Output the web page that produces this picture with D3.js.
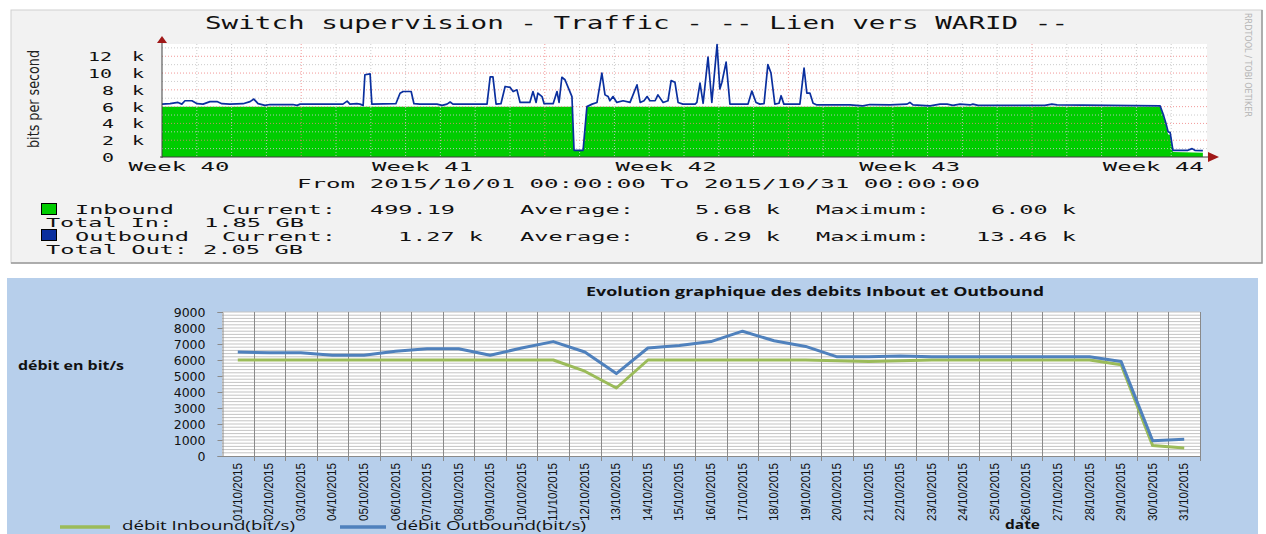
<!DOCTYPE html>
<html>
<head>
<meta charset="utf-8">
<script src="https://cdn.jsdelivr.net/npm/d3@7"></script>
<style>
  body { margin: 0; background: #fff; }
  svg { display: block; }
  .mono { font-family: "DejaVu Sans Mono", monospace; fill: #111; }
</style>
</head>
<body>
<div id="chart"></div>
<script>
// ---- top graph (rrdtool) : day offset from 2015/10/01, value in k bits/s
const outTimes = [0, 0.23, 0.46, 0.57, 0.66, 0.86, 1.01, 1.18, 1.38, 1.58, 1.72, 1.95, 2.33, 2.53, 2.64, 2.76, 2.96, 3.10, 3.76, 3.88, 3.97,
  5.20, 5.32, 5.40, 5.60, 5.69, 5.78, 5.83, 5.98, 6.03, 6.72, 6.84, 6.93, 7.16, 7.24, 7.41, 7.90, 8.05, 8.19, 8.28, 8.36,
  9.34, 9.43, 9.51, 9.60, 9.74, 9.86, 10.0, 10.09, 10.20, 10.29, 10.57, 10.66, 10.75, 10.80, 10.92, 10.98, 11.24, 11.35, 11.41,
  11.49, 11.58, 11.70, 11.78, 11.84, 12.10, 12.21, 12.36, 12.50, 12.64, 12.73, 12.82, 12.87, 12.96, 13.07, 13.25, 13.45, 13.65,
  13.74, 13.85, 13.94, 14.02, 14.17, 14.25, 14.40, 14.54, 14.63, 14.74, 14.83, 14.97, 15.32, 15.37, 15.46, 15.55, 15.69, 15.80,
  15.95, 16.03, 16.09, 16.21, 16.32, 16.84, 16.95, 17.07, 17.18, 17.30, 17.41, 17.50, 17.61, 17.73, 17.79, 17.87, 18.33, 18.45,
  18.53, 18.62, 18.71, 18.82, 19.77, 20.14, 20.34, 20.92, 21.41, 21.49, 21.58, 22.07, 22.36, 22.56, 22.73, 22.93, 23.22, 23.30,
  23.45, 25.37, 25.57, 25.72, 28.68, 28.76, 28.85, 28.91, 28.97, 29.05, 29.48, 29.60, 29.68, 29.91];
const outValues = [6.3, 6.35, 6.5, 6.3, 6.7, 6.7, 6.35, 6.3, 6.6, 6.6, 6.35, 6.3, 6.35, 6.6, 6.9, 6.35, 6.15, 6.25, 6.25, 6.15, 6.3,
  6.3, 6.65, 6.3, 6.35, 6.3, 6.15, 9.8, 9.9, 6.3, 6.35, 7.6, 7.8, 7.8, 6.35, 6.3, 6.3, 6.15, 6.3, 6.55, 6.3,
  6.3, 9.55, 9.55, 6.3, 6.35, 8.4, 8.3, 7.8, 8.0, 6.5, 6.5, 7.8, 6.5, 7.6, 7.2, 6.35, 6.35, 7.8, 6.5,
  9.5, 9.2, 8.0, 7.2, 0.8, 0.8, 6.0, 6.3, 6.5, 10.0, 7.4, 7.2, 6.7, 7.2, 6.5, 6.7, 6.5, 8.6,
  6.5, 6.7, 7.2, 6.7, 6.7, 7.4, 6.5, 6.7, 9.1, 8.9, 6.5, 6.3, 6.3, 6.5, 8.8, 6.4, 11.9, 6.5,
  13.4, 8.1, 8.9, 11.3, 6.3, 6.3, 7.85, 6.5, 6.3, 6.35, 11.0, 10.0, 6.3, 6.4, 7.3, 6.3, 6.3, 10.6,
  7.6, 7.6, 6.4, 6.2, 6.2, 6.1, 6.25, 6.2, 6.3, 6.5, 6.2, 6.1, 6.3, 6.3, 6.15, 6.3, 6.2, 6.3,
  6.15, 6.15, 6.3, 6.2, 6.1, 5.2, 4.0, 3.0, 2.9, 0.8, 0.8, 1.0, 0.8, 0.75];
const inTimes = [0, 11.78, 11.84, 12.10, 12.21, 28.68, 28.76, 28.85, 28.91, 28.97, 29.05, 29.91];
const inValues = [6.0, 6.0, 0.7, 0.7, 6.0, 6.0, 5.0, 3.8, 2.7, 2.6, 0.6, 0.5];
const yTicksTop = [0, 2, 4, 6, 8, 10, 12];
const weekLabels = ["Week 40", "Week 41", "Week 42", "Week 43", "Week 44"];
const weekLabelDays = [0.5, 7.5, 14.5, 21.5, 28.5];
const mondays = [4, 11, 18, 25];

// ---- bottom graph (excel)
const dates = ["01/10/2015", "02/10/2015", "03/10/2015", "04/10/2015", "05/10/2015", "06/10/2015", "07/10/2015", "08/10/2015",
  "09/10/2015", "10/10/2015", "11/10/2015", "12/10/2015", "13/10/2015", "14/10/2015", "15/10/2015", "16/10/2015", "17/10/2015",
  "18/10/2015", "19/10/2015", "20/10/2015", "21/10/2015", "22/10/2015", "23/10/2015", "24/10/2015", "25/10/2015", "26/10/2015",
  "27/10/2015", "28/10/2015", "29/10/2015", "30/10/2015", "31/10/2015"];
const inbound = [6000, 6000, 6000, 6000, 6000, 6000, 6000, 6000, 6000, 6000, 6000, 5300, 4250, 6000, 6000, 6000, 6000,
  6000, 6000, 5950, 5900, 5950, 6000, 6000, 6000, 6000, 6000, 6000, 5700, 650, 500];
const outbound = [6500, 6450, 6450, 6300, 6300, 6550, 6700, 6700, 6300, 6750, 7150, 6500, 5150, 6750, 6900, 7150, 7800,
  7200, 6850, 6200, 6200, 6250, 6200, 6200, 6200, 6200, 6200, 6200, 5900, 950, 1050];
const yTicksBottom = [0, 1000, 2000, 3000, 4000, 5000, 6000, 7000, 8000, 9000];

const svg = d3.select("#chart").append("svg")
  .attr("width", 1266)
  .attr("height", 534);

// monospace text stretched to the measured width
function mono(g, x, y, str, len, size) {
  return g.append("text")
    .attr("class", "mono")
    .attr("x", x).attr("y", y)
    .attr("font-size", size)
    .attr("textLength", len)
    .attr("lengthAdjust", "spacingAndGlyphs")
    .text(str);
}

// ================= TOP PANEL =================
const topG = svg.append("g");
topG.append("rect").attr("x", 11).attr("y", 10).attr("width", 1251).attr("height", 253)
  .attr("fill", "#f2f2f2").attr("stroke", "#d0d0d0");
topG.append("path").attr("d", "M11,263H1262V10").attr("fill", "none").attr("stroke", "#9a9a9a").attr("stroke-width", 1.5);

mono(topG, 205, 29, "Switch supervision - Traffic - -- Lien vers WARID --", 863, 17);

const x1 = d3.scaleLinear().domain([0, 30]).range([162, 1206]);
const y1 = d3.scaleLinear().domain([0, 13.46]).range([157, 44]);

topG.append("rect").attr("x", 162).attr("y", 44).attr("width", 1045).attr("height", 113).attr("fill", "#fff");

const inData = inTimes.map((t, i) => ({t, v: inValues[i]}));
const outData = outTimes.map((t, i) => ({t, v: outValues[i]}));

topG.append("path").datum(inData)
  .attr("fill", "#00cc00")
  .attr("d", d3.area().x(d => x1(d.t)).y0(y1(0)).y1(d => y1(d.v)));

// grid
const grid = topG.append("g").attr("stroke-dasharray", "1,2").attr("stroke-width", 1);
d3.range(1, 30).forEach(d => {
  const major = mondays.includes(d);
  grid.append("line").attr("x1", x1(d)).attr("x2", x1(d)).attr("y1", 44).attr("y2", 157)
    .attr("stroke", major ? "#f08080" : "#c8c8c8").attr("opacity", major ? 0.8 : 0.9);
});
d3.range(1, 14).forEach(v => {
  const major = v % 2 === 0;
  grid.append("line").attr("x1", 162).attr("x2", 1207).attr("y1", y1(v)).attr("y2", y1(v))
    .attr("stroke", major ? "#f08080" : "#c8c8c8").attr("opacity", major ? 0.8 : 0.9);
});

topG.append("path").datum(outData)
  .attr("fill", "none")
  .attr("stroke", "#0a2f9e")
  .attr("stroke-width", 1.7)
  .attr("stroke-linejoin", "round")
  .attr("d", d3.line().x(d => x1(d.t)).y(d => y1(d.v)));

// axes with arrows
topG.append("line").attr("x1", 162).attr("x2", 162).attr("y1", 158).attr("y2", 42).attr("stroke", "#404040");
topG.append("line").attr("x1", 160).attr("x2", 1212).attr("y1", 157).attr("y2", 157).attr("stroke", "#404040");
topG.append("path").attr("d", "M157,43L162,36L167,43Z").attr("fill", "#a01818");
topG.append("path").attr("d", "M1208,152L1219,157L1208,162Z").attr("fill", "#a01818");

yTicksTop.forEach(v => {
  const s = String(v);
  mono(topG, 116 - s.length * 14, y1(v) + 5, s, s.length * 12, 13);
  if (v > 0) mono(topG, 132, y1(v) + 5, "k", 12, 13);
});

weekLabels.forEach((w, i) => {
  mono(topG, x1(weekLabelDays[i]) - 51, 171, w, 101, 13);
});

topG.append("text")
  .attr("transform", "translate(39,99) rotate(-90)")
  .attr("text-anchor", "middle")
  .attr("font-family", "DejaVu Sans, sans-serif")
  .attr("font-size", 15)
  .attr("fill", "#222")
  .attr("textLength", 98)
  .attr("lengthAdjust", "spacingAndGlyphs")
  .text("bits per second");

topG.append("text")
  .attr("transform", "translate(1245,65) rotate(90)")
  .attr("text-anchor", "middle")
  .attr("font-family", "DejaVu Sans, sans-serif")
  .attr("font-size", 9)
  .attr("fill", "#b4b4b4")
  .attr("textLength", 104)
  .attr("lengthAdjust", "spacingAndGlyphs")
  .text("RRDTOOL / TOBI OETIKER");

mono(topG, 297, 188, "From 2015/10/01 00:00:00 To 2015/10/31 00:00:00", 683, 13);

// legend
topG.append("rect").attr("x", 41.5).attr("y", 203.5).attr("width", 15).attr("height", 11)
  .attr("fill", "#00cc00").attr("stroke", "#000");
topG.append("rect").attr("x", 41.5).attr("y", 229.5).attr("width", 15).attr("height", 11)
  .attr("fill", "#0a2f9e").attr("stroke", "#000");
const legendRows = [
  [[75, 214, "Inbound", 99], [222, 214, "Current:", 114], [370, 214, "499.19", 85], [520, 214, "Average:", 114],
   [695, 214, "5.68 k", 85], [816, 214, "Maximum:", 114], [991, 214, "6.00 k", 85]],
  [[46, 227, "Total In:", 127], [204, 227, "1.85 GB", 100]],
  [[75, 241, "Outbound", 114], [222, 241, "Current:", 114], [398, 241, "1.27 k", 85], [520, 241, "Average:", 114],
   [695, 241, "6.29 k", 85], [816, 241, "Maximum:", 114], [976, 241, "13.46 k", 100]],
  [[46, 254, "Total Out:", 142], [203, 254, "2.05 GB", 100]]
];
legendRows.forEach(row => row.forEach(c => mono(topG, c[0], c[1], c[2], c[3], 13)));

// ================= BOTTOM PANEL =================
const botG = svg.append("g");
botG.append("rect").attr("x", 7).attr("y", 278).attr("width", 1251).attr("height", 260).attr("fill", "#b7cfeb");

botG.append("text").attr("x", 586).attr("y", 296)
  .attr("font-family", "Open Sans, sans-serif").attr("font-weight", "bold").attr("font-size", 13)
  .attr("fill", "#111")
  .attr("textLength", 458).attr("lengthAdjust", "spacingAndGlyphs")
  .text("Evolution graphique des debits Inbout et Outbound");

const x2 = d3.scaleBand().domain(dates).range([222, 1200]);
const y2 = d3.scaleLinear().domain([0, 9000]).range([456, 312]);

botG.append("rect").attr("x", 222).attr("y", 312).attr("width", 978).attr("height", 144).attr("fill", "#fff");

// horizontal minor gridlines
d3.range(200, 9001, 200).forEach(v => {
  botG.append("line").attr("x1", 222).attr("x2", 1200).attr("y1", y2(v)).attr("y2", y2(v))
    .attr("stroke", "#c4c4c4").attr("stroke-width", 1);
});
// vertical gridlines at category boundaries
dates.forEach((d, i) => {
  const xx = Math.round(x2(d) + x2.bandwidth()) + 0.5;
  botG.append("line").attr("x1", xx).attr("x2", xx).attr("y1", 312).attr("y2", 461)
    .attr("stroke", "#8a8a8a");
});

// y axis
const yAxis = botG.append("g").attr("transform", "translate(222.5,0)")
  .call(d3.axisLeft(y2).tickValues(yTicksBottom).tickSize(5).tickFormat(d3.format("d")));
yAxis.select(".domain").attr("stroke", "#8a8a8a");
yAxis.selectAll(".tick line").attr("stroke", "#8a8a8a");
yAxis.selectAll(".tick text")
  .attr("font-family", "DejaVu Sans, sans-serif").attr("font-size", 12.5).attr("fill", "#111")
  .attr("x", -17);
botG.append("line").attr("x1", 218).attr("x2", 1200).attr("y1", 456.5).attr("y2", 456.5).attr("stroke", "#8a8a8a");

// category labels
dates.forEach(d => {
  const cx = x2(d) + x2.bandwidth() / 2;
  botG.append("text")
    .attr("transform", `translate(${cx + 4},463) rotate(-90)`)
    .attr("text-anchor", "end")
    .attr("font-family", "Liberation Sans Narrow, Liberation Sans, sans-serif")
    .attr("font-size", 12).attr("fill", "#111")
    .attr("textLength", 58).attr("lengthAdjust", "spacingAndGlyphs")
    .text(d);
});

const line2 = d3.line().x((d, i) => x2(dates[i]) + x2.bandwidth() / 2).y(d => y2(d));
botG.append("path").datum(inbound).attr("fill", "none").attr("stroke", "#9bbb59")
  .attr("stroke-width", 3).attr("stroke-linejoin", "round").attr("d", line2);
botG.append("path").datum(outbound).attr("fill", "none").attr("stroke", "#4f81bd")
  .attr("stroke-width", 3).attr("stroke-linejoin", "round").attr("d", line2);

botG.append("text").attr("x", 18).attr("y", 370)
  .attr("font-family", "Open Sans, sans-serif").attr("font-weight", "bold").attr("font-size", 12)
  .attr("fill", "#111")
  .attr("textLength", 106).attr("lengthAdjust", "spacingAndGlyphs")
  .text("débit en bit/s");

botG.append("text").attr("x", 1005).attr("y", 529)
  .attr("font-family", "Open Sans, sans-serif").attr("font-weight", "bold").attr("font-size", 13)
  .attr("fill", "#111")
  .attr("textLength", 35).attr("lengthAdjust", "spacingAndGlyphs")
  .text("date");

// legend (sits at the bottom edge, as in the source)
botG.append("line").attr("x1", 60).attr("x2", 110).attr("y1", 527).attr("y2", 527)
  .attr("stroke", "#9bbb59").attr("stroke-width", 3.5);
botG.append("text").attr("x", 122).attr("y", 530)
  .attr("font-family", "Open Sans, sans-serif").attr("font-size", 12.5).attr("fill", "#111")
  .attr("textLength", 173).attr("lengthAdjust", "spacingAndGlyphs")
  .text("débit Inbound(bit/s)");
botG.append("line").attr("x1", 340).attr("x2", 386).attr("y1", 527).attr("y2", 527)
  .attr("stroke", "#4f81bd").attr("stroke-width", 3.5);
botG.append("text").attr("x", 396).attr("y", 530)
  .attr("font-family", "Open Sans, sans-serif").attr("font-size", 12.5).attr("fill", "#111")
  .attr("textLength", 190).attr("lengthAdjust", "spacingAndGlyphs")
  .text("débit Outbound(bit/s)");
</script>
</body>
</html>
